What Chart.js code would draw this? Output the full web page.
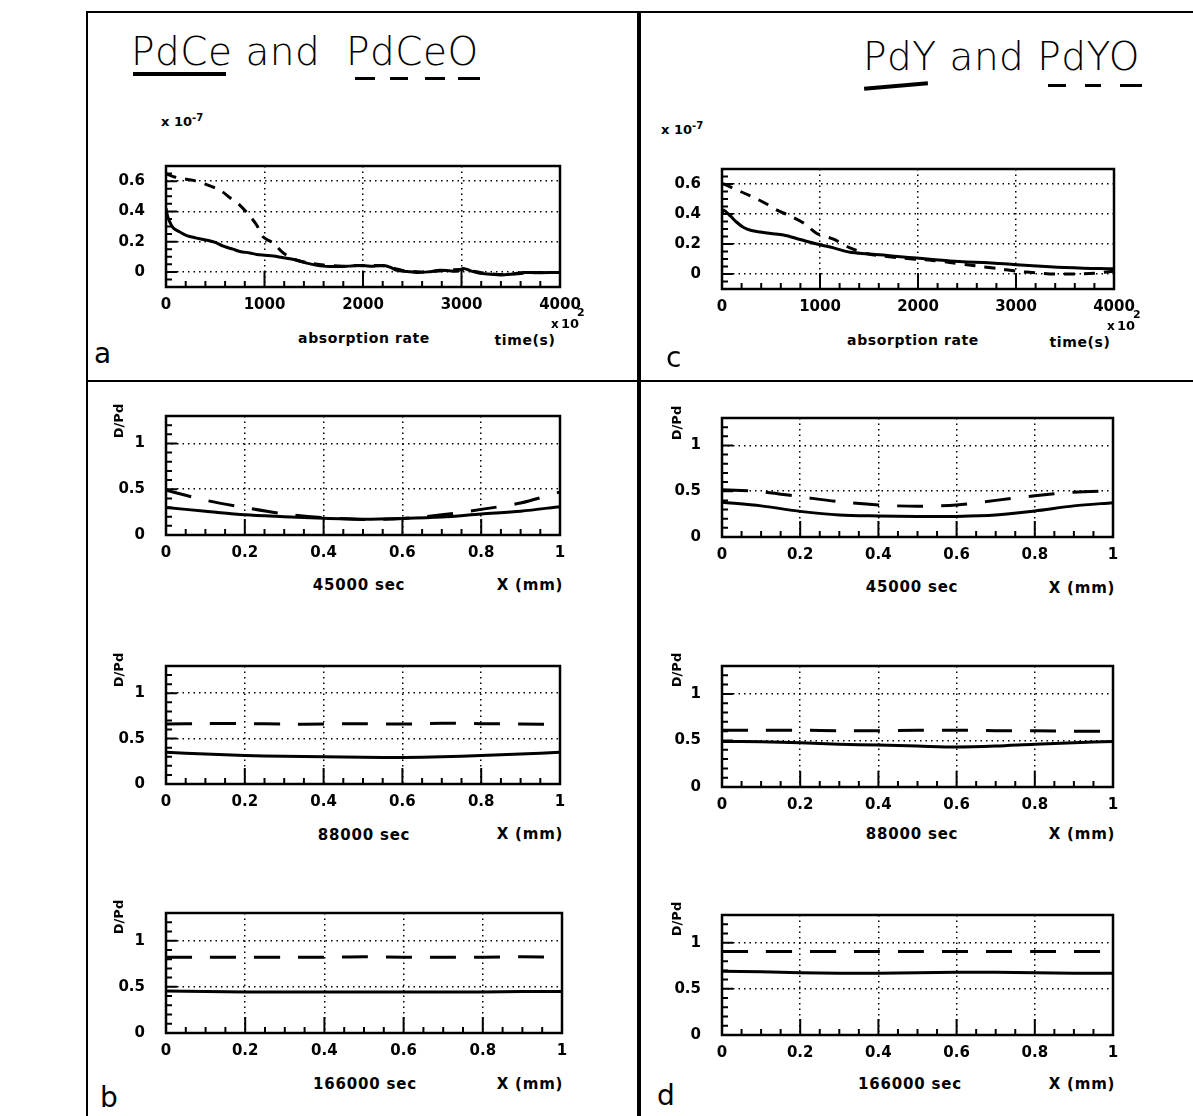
<!DOCTYPE html>
<html>
<head>
<meta charset="utf-8">
<script src="https://cdn.jsdelivr.net/npm/chart.js@4.4.0/dist/chart.umd.min.js"></script>
<style>
  body { margin: 0; background: #fff; width: 1193px; height: 1116px; position: relative; overflow: hidden; font-family: "DejaVu Sans", sans-serif; color: #000; }
  canvas { position: absolute; }
  .ln { position: absolute; background: #000; }
  .t { position: absolute; white-space: nowrap; font-weight: bold; line-height: 1; }
  .title { position: absolute; white-space: nowrap; font-family: "DejaVu Sans", sans-serif; font-weight: 200; font-size: 39px; line-height: 1; letter-spacing: 0.5px; }
  .lab { position: absolute; font-family: "DejaVu Sans", sans-serif; font-size: 28px; line-height: 1; }
  .rot { transform: translate(-50%, -50%) rotate(-90deg); }
  .ctr { transform: translate(-50%, -50%); }
  .cap { font-size: 14px; letter-spacing: 0.6px; }
  .sec { font-size: 15px; letter-spacing: 0.8px; }
</style>
</head>
<body>

<!-- frame -->
<div class="ln" style="left:86px;top:11px;width:2px;height:1105px"></div>
<div class="ln" style="left:86px;top:11px;width:1107px;height:2px"></div>
<div class="ln" style="left:637px;top:11px;width:4px;height:1105px"></div>
<div class="ln" style="left:86px;top:380px;width:1107px;height:2px"></div>

<!-- titles -->
<div class="title" style="left:131px;top:32px">PdCe and&nbsp; PdCeO</div>
<div class="ln" style="left:133px;top:72px;width:93px;height:4px"></div>
<div class="ln" style="left:355px;top:77px;width:20px;height:3px"></div>
<div class="ln" style="left:390px;top:77px;width:18px;height:3px"></div>
<div class="ln" style="left:425px;top:77px;width:20px;height:3px"></div>
<div class="ln" style="left:458px;top:77px;width:22px;height:3px"></div>

<div class="title" style="left:863px;top:37px">PdY and PdYO</div>
<div class="ln" style="left:864px;top:84px;width:64px;height:4px;transform:rotate(-5deg)"></div>
<div class="ln" style="left:1048px;top:84px;width:18px;height:3px"></div>
<div class="ln" style="left:1085px;top:84px;width:16px;height:3px"></div>
<div class="ln" style="left:1120px;top:84px;width:22px;height:3px"></div>

<canvas id="rateCe"></canvas>
<canvas id="rateY"></canvas>
<canvas id="prof1Ce"></canvas>
<canvas id="prof1Y"></canvas>
<canvas id="prof2Ce"></canvas>
<canvas id="prof2Y"></canvas>
<canvas id="prof3Ce"></canvas>
<canvas id="prof3Y"></canvas>

<!-- axis texts, panel a / c -->
<div class="t" style="left:161px;top:113px;font-size:13px">x 10<sup style="font-size:10px">-7</sup></div>
<div class="t" style="left:661px;top:121px;font-size:13px">x 10<sup style="font-size:10px">-7</sup></div>
<div class="t ctr cap" style="left:364px;top:338px">absorption rate</div>
<div class="t ctr cap" style="left:913px;top:340px">absorption rate</div>
<div class="t ctr cap" style="left:525px;top:340px">time(s)</div>
<div class="t ctr cap" style="left:1080px;top:342px">time(s)</div>
<div class="t" style="left:551px;top:318px;font-size:12px">x</div>
<div class="t" style="left:561px;top:317px;font-size:13px">10</div>
<div class="t" style="left:577px;top:307px;font-size:11px">2</div>
<div class="t" style="left:1107px;top:320px;font-size:12px">x</div>
<div class="t" style="left:1117px;top:319px;font-size:13px">10</div>
<div class="t" style="left:1133px;top:309px;font-size:11px">2</div>

<div class="lab" style="left:94px;top:340px">a</div>
<div class="lab" style="left:666px;top:344px">c</div>
<div class="lab" style="left:100px;top:1084px">b</div>
<div class="lab" style="left:657px;top:1082px">d</div>

<!-- profile texts -->
<div class="t rot" style="left:118px;top:421px;font-size:13px">D/Pd</div>
<div class="t rot" style="left:676px;top:423px;font-size:13px">D/Pd</div>
<div class="t rot" style="left:118px;top:670px;font-size:13px">D/Pd</div>
<div class="t rot" style="left:676px;top:670px;font-size:13px">D/Pd</div>
<div class="t rot" style="left:118px;top:917px;font-size:13px">D/Pd</div>
<div class="t rot" style="left:676px;top:919px;font-size:13px">D/Pd</div>

<div class="t ctr sec" style="left:359px;top:585px">45000 sec</div>
<div class="t ctr sec" style="left:530px;top:585px">X (mm)</div>
<div class="t ctr sec" style="left:912px;top:587px">45000 sec</div>
<div class="t ctr sec" style="left:1082px;top:588px">X (mm)</div>
<div class="t ctr sec" style="left:364px;top:835px">88000 sec</div>
<div class="t ctr sec" style="left:530px;top:834px">X (mm)</div>
<div class="t ctr sec" style="left:912px;top:834px">88000 sec</div>
<div class="t ctr sec" style="left:1082px;top:834px">X (mm)</div>
<div class="t ctr sec" style="left:365px;top:1084px">166000 sec</div>
<div class="t ctr sec" style="left:530px;top:1084px">X (mm)</div>
<div class="t ctr sec" style="left:910px;top:1084px">166000 sec</div>
<div class="t ctr sec" style="left:1082px;top:1084px">X (mm)</div>

<script>
// ====== absorption rate (x 10^-7) vs time (x 10^2 s) ======
const rateCeTime = [0, 20, 74, 150, 210, 300, 413, 500, 582, 680, 751, 850, 920, 1000, 1090, 1180, 1259, 1340, 1428, 1520,
  1597, 1680, 1766, 1850, 1936, 2020, 2105, 2207, 2280, 2342, 2450, 2545, 2660, 2782, 2870, 2951, 3018, 3100, 3188, 3300,
  3391, 3500, 3628, 3800, 4000];
const rateCe = [0.42, 0.36, 0.29, 0.26, 0.24, 0.225, 0.21, 0.195, 0.17, 0.15, 0.135, 0.125, 0.115, 0.11, 0.105, 0.095, 0.087, 0.075, 0.058, 0.045,
  0.038, 0.036, 0.035, 0.038, 0.042, 0.04, 0.038, 0.042, 0.03, 0.01, 0.003, -0.004, 0.0, 0.01, 0.008, 0.004, 0.023, 0.005, -0.01, -0.015,
  -0.02, -0.015, -0.004, -0.005, -0.004];
const rateCeOTime = [0, 74, 180, 277, 400, 548, 650, 751, 850, 920, 988, 1090, 1191, 1327, 1450, 1600, 1800, 2000, 2200, 2400,
  2600, 2800, 3000, 3200, 3400, 3600, 3800, 4000];
const rateCeO = [0.65, 0.63, 0.615, 0.605, 0.58, 0.54, 0.49, 0.44, 0.37, 0.31, 0.23, 0.19, 0.125, 0.077, 0.06, 0.045, 0.038, 0.042, 0.04, 0.01,
  0.0, 0.008, 0.015, -0.005, -0.018, -0.01, -0.004, -0.004];

const rateYTime = [0, 17, 85, 150, 221, 300, 390, 500, 628, 798, 968, 1138, 1307, 1480, 1647, 1820, 1987, 2150, 2326, 2500,
  2666, 2830, 3005, 3170, 3345, 3500, 3684, 3850, 4000];
const rateY = [0.40, 0.426, 0.387, 0.345, 0.31, 0.29, 0.28, 0.27, 0.26, 0.23, 0.20, 0.174, 0.145, 0.135, 0.126, 0.115, 0.106, 0.097, 0.087, 0.08,
  0.077, 0.07, 0.062, 0.055, 0.048, 0.043, 0.039, 0.036, 0.035];
const rateYOTime = [0, 17, 119, 240, 357, 460, 560, 696, 832, 968, 1138, 1307, 1477, 1650, 1850, 2000, 2150, 2326, 2500, 2666,
  2830, 3005, 3200, 3400, 3600, 3800, 4000];
const rateYO = [0.6, 0.6, 0.57, 0.535, 0.50, 0.465, 0.426, 0.387, 0.34, 0.27, 0.232, 0.174, 0.135, 0.12, 0.105, 0.098, 0.09, 0.077, 0.062, 0.048,
  0.035, 0.019, 0.008, 0.0, 0.0, 0.005, 0.019];

const rateXTicks = [0, 1000, 2000, 3000, 4000];
const rateXLabels = ['0', '1000', '2000', '3000', '4000'];
const rateYTicks = [0, 0.2, 0.4, 0.6];
const rateYLabels = ['0', '0.2', '0.4', '0.6'];

// ====== D/Pd profiles vs X (mm) ======
const profileX = [0, 0.1, 0.2, 0.3, 0.4, 0.5, 0.6, 0.7, 0.8, 0.9, 1];
const ce45000 = [0.30, 0.26, 0.22, 0.20, 0.183, 0.172, 0.18, 0.196, 0.23, 0.26, 0.31];
const ceO45000 = [0.49, 0.38, 0.30, 0.23, 0.19, 0.17, 0.18, 0.22, 0.28, 0.35, 0.47];
const y45000 = [0.38, 0.34, 0.28, 0.24, 0.23, 0.225, 0.225, 0.24, 0.285, 0.34, 0.375];
const yO45000 = [0.515, 0.495, 0.44, 0.385, 0.35, 0.335, 0.35, 0.40, 0.45, 0.49, 0.505];
const ce88000 = [0.35, 0.33, 0.315, 0.305, 0.30, 0.295, 0.293, 0.30, 0.313, 0.33, 0.35];
const ceO88000 = [0.66, 0.665, 0.665, 0.66, 0.66, 0.665, 0.66, 0.67, 0.665, 0.66, 0.655];
const y88000 = [0.49, 0.485, 0.475, 0.46, 0.45, 0.44, 0.43, 0.44, 0.46, 0.475, 0.49];
const yO88000 = [0.61, 0.61, 0.61, 0.605, 0.605, 0.61, 0.61, 0.605, 0.605, 0.60, 0.60];
const ce166000 = [0.455, 0.45, 0.445, 0.445, 0.445, 0.445, 0.445, 0.445, 0.445, 0.45, 0.45];
const ceO166000 = [0.82, 0.82, 0.82, 0.82, 0.82, 0.825, 0.82, 0.82, 0.82, 0.825, 0.82];
const y166000 = [0.69, 0.685, 0.675, 0.67, 0.67, 0.675, 0.68, 0.68, 0.675, 0.67, 0.67];
const yO166000 = [0.905, 0.905, 0.905, 0.905, 0.905, 0.905, 0.905, 0.905, 0.905, 0.905, 0.905];

const profXTicks = [0, 0.2, 0.4, 0.6, 0.8, 1];
const profXLabels = ['0', '0.2', '0.4', '0.6', '0.8', '1'];
const profYTicks = [0, 0.5, 1];
const profYLabels = ['0', '0.5', '1'];

// inner tick marks and the plot box
const frameTicks = {
  id: 'frameTicks',
  afterDatasetsDraw(chart, args, o) {
    const { ctx, chartArea: a, scales: { x, y } } = chart;
    ctx.save();
    ctx.strokeStyle = '#000';
    ctx.lineWidth = 2;
    ctx.beginPath();
    const nx = Math.round((x.max - x.min) / o.xStep);
    for (let i = 0; i <= nx; i++) {
      const v = x.min + i * o.xStep;
      const px = x.getPixelForValue(v);
      const len = (i % o.xMajorEvery === 0) ? 16 : 6;
      ctx.moveTo(px, a.bottom);
      ctx.lineTo(px, a.bottom - len);
    }
    const ny = Math.round((y.max - y.min) / o.yStep);
    for (let i = 0; i <= ny; i++) {
      const v = y.min + i * o.yStep;
      const py = y.getPixelForValue(v);
      const major = Math.abs(v / o.yMajor - Math.round(v / o.yMajor)) < 1e-6;
      ctx.moveTo(a.left, py);
      ctx.lineTo(a.left + (major ? 11 : 6), py);
    }
    ctx.stroke();
    ctx.lineWidth = 2.5;
    ctx.strokeRect(a.left, a.top, a.right - a.left, a.bottom - a.top);
    ctx.restore();
  }
};

function place(canvas, r) {
  canvas.width = (r.right - r.left) + 70 + 30;
  canvas.height = (r.bottom - r.top) + 12 + 34;
  canvas.style.left = (r.left - 70) + 'px';
  canvas.style.top = (r.top - 12) + 'px';
}

function makeChart(id, rect, sets, ax) {
  const canvas = document.getElementById(id);
  place(canvas, rect);
  const tickFont = { family: 'DejaVu Sans', size: 15, weight: 'bold' };
  new Chart(canvas.getContext('2d'), {
    type: 'line',
    data: {
      datasets: sets.map(s => ({
        data: s.xs.map((v, i) => ({ x: v, y: s.ys[i] })),
        borderColor: '#000',
        borderWidth: 3,
        borderDash: s.dash,
        pointRadius: 0,
        tension: 0.3,
        fill: false
      }))
    },
    plugins: [frameTicks],
    options: {
      responsive: false,
      animation: false,
      layout: { padding: { top: 12, right: 30, left: 0, bottom: 0 } },
      plugins: { legend: { display: false }, tooltip: { enabled: false }, frameTicks: ax.minor },
      scales: {
        x: {
          type: 'linear', min: ax.xMin, max: ax.xMax,
          afterBuildTicks: s => { s.ticks = ax.xTicks.map(v => ({ value: v })); },
          afterFit: s => { s.height = 34; },
          ticks: { color: '#000', font: tickFont, padding: 9, maxRotation: 0, autoSkip: false,
                   callback: (v, i) => ax.xLabels[i] },
          grid: { color: '#000', lineWidth: 1.5, drawTicks: false },
          border: { display: false, dash: [1.5, 4] }
        },
        y: {
          type: 'linear', min: ax.yMin, max: ax.yMax,
          afterBuildTicks: s => { s.ticks = ax.yTicks.map(v => ({ value: v })); },
          afterFit: s => { s.width = 70; },
          ticks: { color: '#000', font: tickFont, padding: 21, autoSkip: false,
                   callback: (v, i) => ax.yLabels[i] },
          grid: { color: '#000', lineWidth: 1.5, drawTicks: false },
          border: { display: false, dash: [1.5, 4] }
        }
      }
    }
  });
}

const rateAxes = {
  xMin: 0, xMax: 4000, yMin: -0.1, yMax: 0.7,
  xTicks: rateXTicks, xLabels: rateXLabels, yTicks: rateYTicks, yLabels: rateYLabels,
  minor: { xStep: 200, xMajorEvery: 5, yStep: 0.05, yMajor: 0.2 }
};
const profAxes = {
  xMin: 0, xMax: 1, yMin: 0, yMax: 1.3,
  xTicks: profXTicks, xLabels: profXLabels, yTicks: profYTicks, yLabels: profYLabels,
  minor: { xStep: 0.05, xMajorEvery: 4, yStep: 0.1, yMajor: 0.5 }
};

const rateDash = [11, 9];
const profDash = [26, 18];

makeChart('rateCe', { left: 166, top: 148, right: 560, bottom: 287 }, [
  { xs: rateCeTime, ys: rateCe, dash: [] },
  { xs: rateCeOTime, ys: rateCeO, dash: rateDash }
], rateAxes);

makeChart('rateY', { left: 722, top: 151, right: 1114, bottom: 289 }, [
  { xs: rateYTime, ys: rateY, dash: [] },
  { xs: rateYOTime, ys: rateYO, dash: rateDash }
], rateAxes);

makeChart('prof1Ce', { left: 166, top: 398, right: 560, bottom: 535 }, [
  { xs: profileX, ys: ce45000, dash: [] },
  { xs: profileX, ys: ceO45000, dash: profDash }
], profAxes);

makeChart('prof1Y', { left: 722, top: 400, right: 1113, bottom: 537 }, [
  { xs: profileX, ys: y45000, dash: [] },
  { xs: profileX, ys: yO45000, dash: profDash }
], profAxes);

makeChart('prof2Ce', { left: 166, top: 648, right: 560, bottom: 784 }, [
  { xs: profileX, ys: ce88000, dash: [] },
  { xs: profileX, ys: ceO88000, dash: profDash }
], profAxes);

makeChart('prof2Y', { left: 722, top: 648, right: 1113, bottom: 787 }, [
  { xs: profileX, ys: y88000, dash: [] },
  { xs: profileX, ys: yO88000, dash: profDash }
], profAxes);

makeChart('prof3Ce', { left: 166, top: 895, right: 562, bottom: 1033 }, [
  { xs: profileX, ys: ce166000, dash: [] },
  { xs: profileX, ys: ceO166000, dash: profDash }
], profAxes);

makeChart('prof3Y', { left: 722, top: 897, right: 1113, bottom: 1035 }, [
  { xs: profileX, ys: y166000, dash: [] },
  { xs: profileX, ys: yO166000, dash: profDash }
], profAxes);
</script>
</body>
</html>
